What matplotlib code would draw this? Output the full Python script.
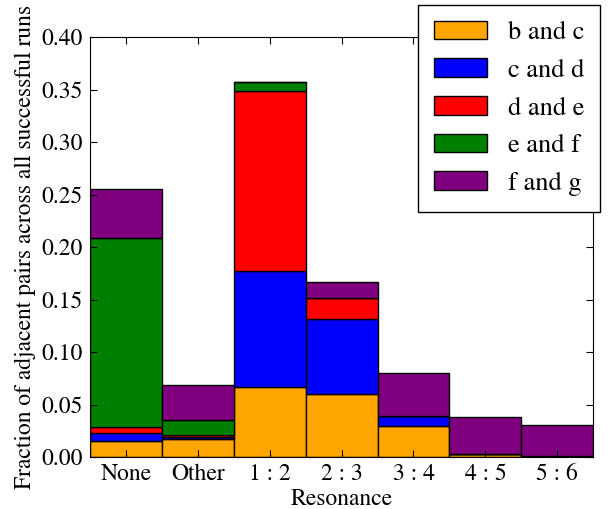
import matplotlib
matplotlib.use("Agg")
import matplotlib.pyplot as plt
import numpy as np

categories = ["None", "Other", "1 : 2", "2 : 3", "3 : 4", "4 : 5", "5 : 6"]
labels = ["b and c", "c and d", "d and e", "e and f", "f and g"]
colors = ["orange", "blue", "red", "green", "purple"]

b_and_c = [0.0155, 0.017, 0.067, 0.060, 0.030, 0.003, 0.0008]
c_and_d = [0.007, 0.0025, 0.1105, 0.0715, 0.009, 0.0, 0.0]
d_and_e = [0.0065, 0.002, 0.171, 0.020, 0.0, 0.0, 0.0]
e_and_f = [0.180, 0.0135, 0.0085, 0.0, 0.0, 0.0, 0.0]
f_and_g = [0.0465, 0.034, 0.0, 0.015, 0.041, 0.0355, 0.0297]

series = [b_and_c, c_and_d, d_and_e, e_and_f, f_and_g]

plt.rcParams["font.family"] = ["STIXGeneral", "Liberation Serif", "DejaVu Serif"]

fig = plt.figure(figsize=(6.11, 5.09), dpi=100)
ax = fig.add_axes([0.147, 0.102, 0.824, 0.825])

x = np.arange(len(categories))
bottom = np.zeros(len(categories))
for vals, lab, col in zip(series, labels, colors):
    ax.bar(x, vals, width=1.0, bottom=bottom, color=col, edgecolor="black",
           linewidth=1.0, label=lab, align="center")
    bottom += np.array(vals)

ax.set_xlim(-0.5, 6.5)
ax.set_ylim(0, 0.40)
ax.set_xticks(x)
ax.set_xticklabels(categories)
ax.set_yticks(np.arange(0, 0.401, 0.05))
ax.set_yticklabels(["%.2f" % v for v in np.arange(0, 0.401, 0.05)])
ax.tick_params(direction="in", top=True, right=True, length=5, labelsize=17, pad=5)
ax.set_xlabel("Resonance", fontsize=17, labelpad=2)
ax.set_ylabel("Fraction of adjacent pairs across all successful runs", fontsize=17,
              labelpad=4)

fig.legend(loc="upper right", bbox_to_anchor=(600 / 611, 1 - 5 / 509),
           fontsize=19, handlelength=2.0, handleheight=0.7, labelspacing=0.5,
           handletextpad=0.8, borderpad=0.6, borderaxespad=0, fancybox=False,
           framealpha=1, edgecolor="black")

fig.savefig("out.png", dpi=100)
